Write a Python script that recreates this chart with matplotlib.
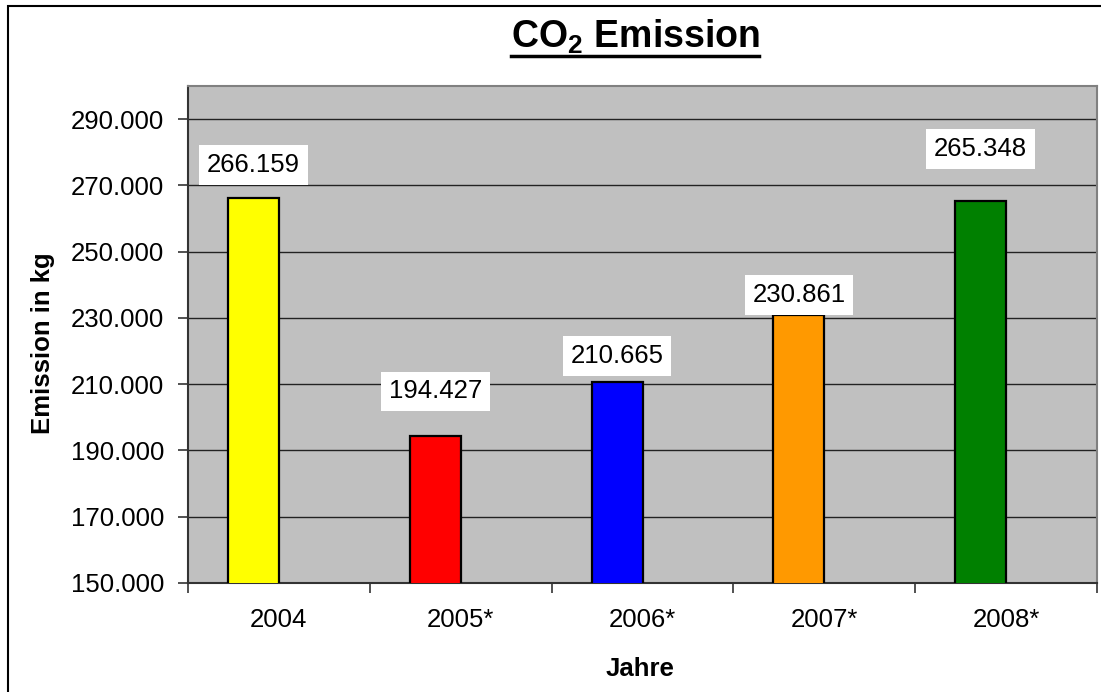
import matplotlib
matplotlib.use("Agg")
import matplotlib.pyplot as plt
from matplotlib.patches import Rectangle
from matplotlib.lines import Line2D

plt.rcParams["font.family"] = ["Liberation Sans", "DejaVu Sans"]
plt.rcParams["mathtext.fontset"] = "custom"
plt.rcParams["mathtext.rm"] = "Liberation Sans:bold"
plt.rcParams["mathtext.default"] = "rm"

years = ["2004", "2005*", "2006*", "2007*", "2008*"]
emission = [266.159, 194.427, 210.665, 230.861, 265.348]
value_labels = ["266.159", "194.427", "210.665", "230.861", "265.348"]
label_y = [276.1, 207.8, 218.5, 236.9, 281.0]
colors = ["#FFFF00", "#FF0000", "#0000FF", "#FF9900", "#008000"]
y_ticks = [150, 170, 190, 210, 230, 250, 270, 290]
y_ticklabels = ["150.000", "170.000", "190.000", "210.000", "230.000",
                "250.000", "270.000", "290.000"]

W, H = 1101, 692
fig = plt.figure(figsize=(W / 100, H / 100), dpi=100)
ax = fig.add_axes([188 / W, 1 - 583 / H, (1097 - 188) / W, (583 - 86) / H])
ax.set_facecolor("#C0C0C0")

bar_w = 0.28
x = list(range(len(years)))
xb = [i - bar_w / 2 for i in x]
ax.bar(xb, emission, width=bar_w, bottom=0, color=colors,
       edgecolor="black", linewidth=1.6, zorder=3)

for xi, yi, s in zip(xb, label_y, value_labels):
    ax.text(xi, yi, s, ha="center", va="center", fontsize=18.5, zorder=5,
            bbox=dict(boxstyle="square,pad=0.3", facecolor="white", edgecolor="none"))

ax.set_xlim(-0.5, 4.5)
ax.set_ylim(150, 300)
ax.set_yticks(y_ticks)
ax.set_yticklabels(y_ticklabels, fontsize=18.5)
ax.set_xticks(x)
ax.set_xticklabels(years, fontsize=18.5)
ax.set_xticks([i - 0.5 for i in range(len(years) + 1)], minor=True)
ax.tick_params(axis="x", which="major", length=0, pad=18)
ax.tick_params(axis="x", which="minor", length=7, width=1.2, color="#333333", direction="out")
ax.tick_params(axis="y", length=7, width=1.2, color="#333333", pad=10)

for g in y_ticks[1:]:
    ax.axhline(g, color="#222222", linewidth=1.0, zorder=1)

for side in ["top", "right"]:
    ax.spines[side].set_color("#808080")
    ax.spines[side].set_linewidth(1.5)
for side in ["left", "bottom"]:
    ax.spines[side].set_color("#333333")
    ax.spines[side].set_linewidth(1.5)

fig.text(640 / W, 1 - 669 / H, "Jahre", ha="center", va="center",
         fontsize=18.5, fontweight="bold")
fig.text(43 / W, 1 - 343 / H, "Emission in kg", ha="center", va="center",
         rotation=90, fontsize=18.5, fontweight="bold")

title = fig.text(635 / W, 1 - 37 / H, r"CO$_2$ Emission", ha="center", va="center",
                 fontsize=27, fontweight="bold")

# figure border (only left and top are visible in the picture)
fig.patches.append(Rectangle((8 / W, -0.1), 1.2, 1.1 - 6 / H, transform=fig.transFigure,
                             fill=False, edgecolor="black", linewidth=1.5))

# underline the title
fig.canvas.draw()
bb = title.get_window_extent().transformed(fig.transFigure.inverted())
uy = 1 - 56 / H
fig.lines.append(Line2D([bb.x0, bb.x1], [uy, uy], transform=fig.transFigure,
                        color="black", linewidth=2.5))

fig.savefig("out.png", dpi=100)
